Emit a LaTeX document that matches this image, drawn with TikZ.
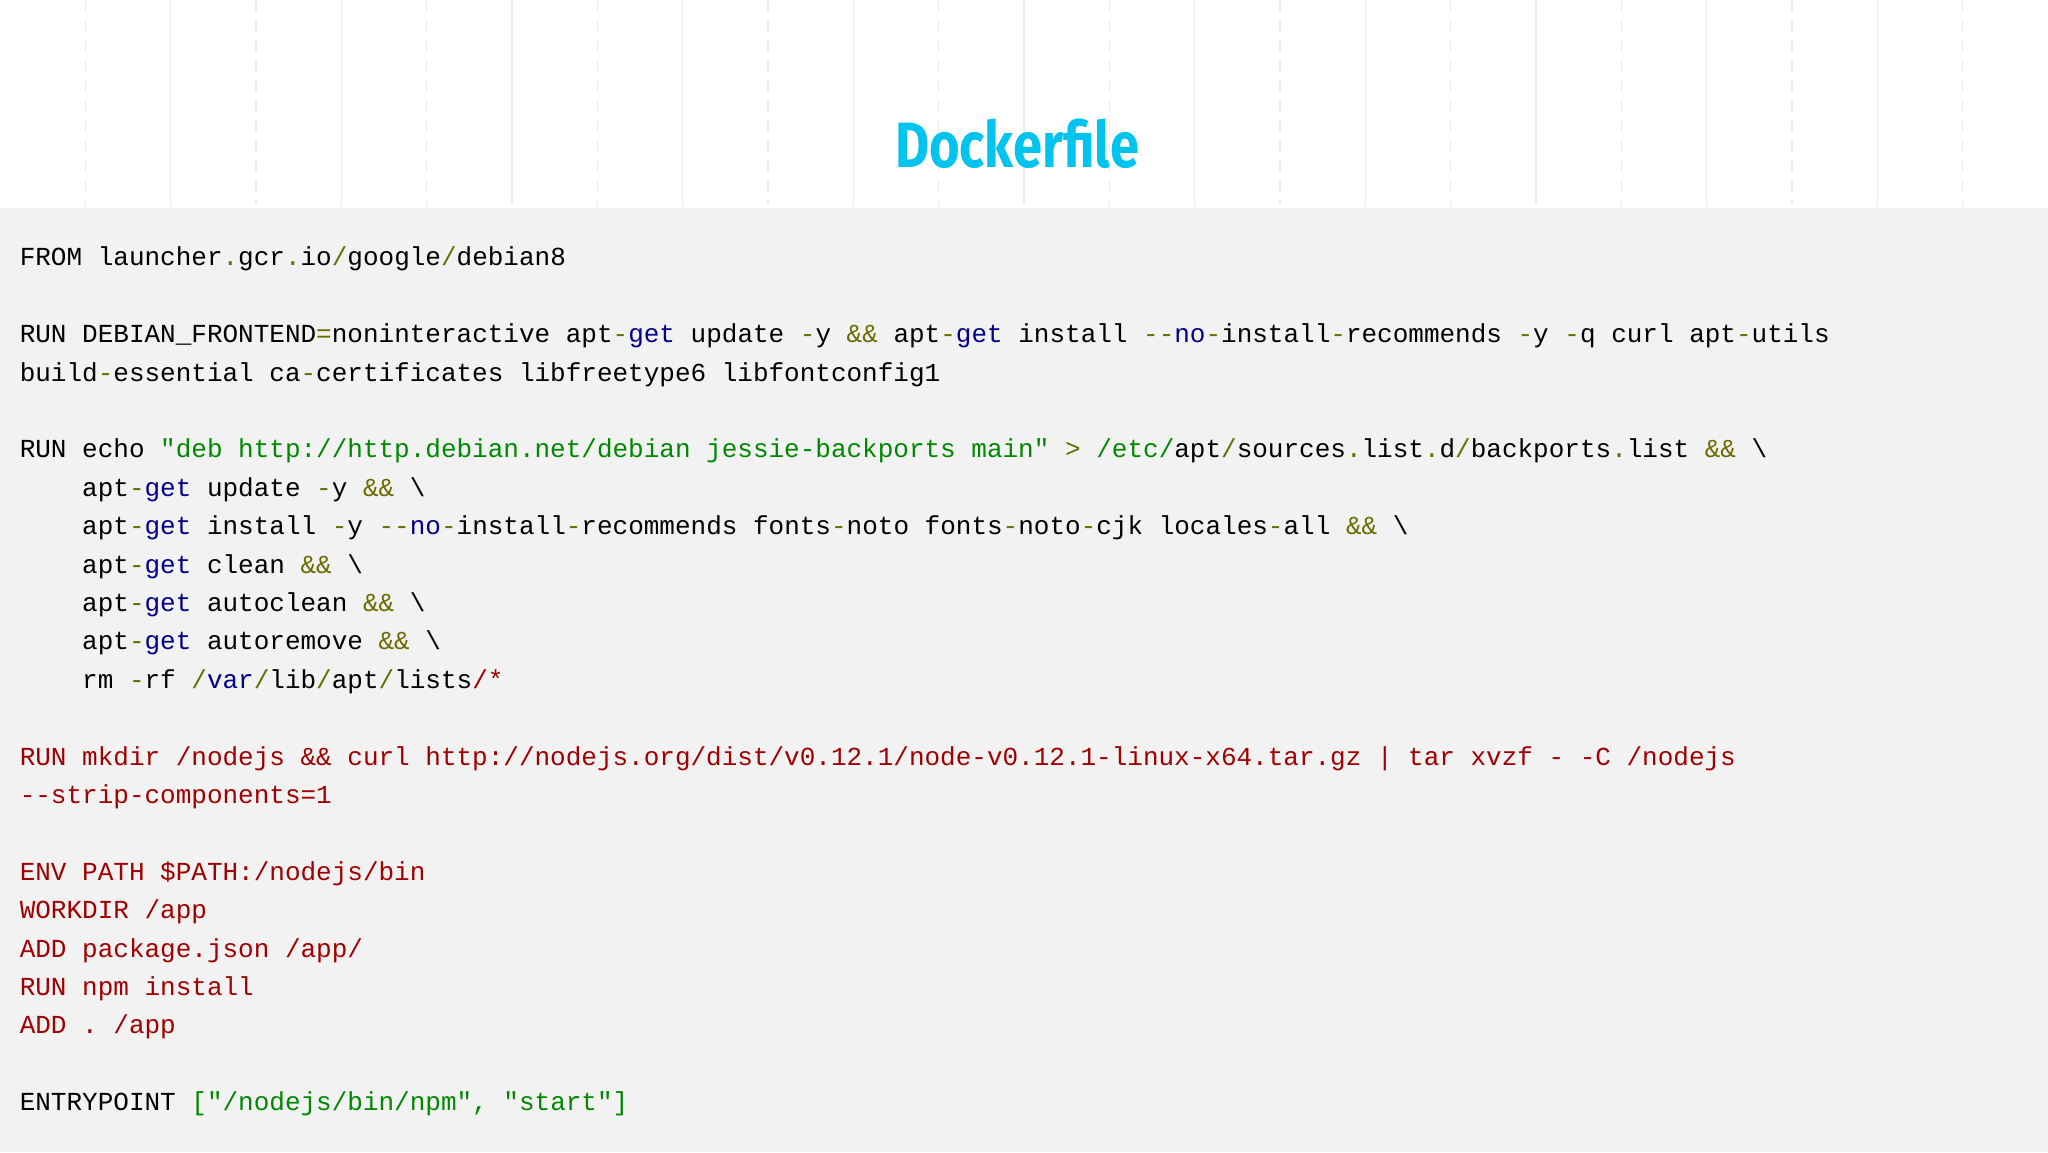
\documentclass[tikz,border=0pt]{standalone}
\usepackage{fontspec}
\newfontfamily\code{Liberation Mono}
\newfontfamily\titlefont{Fira Sans}
\definecolor{bgg}{HTML}{F2F2F3}
\definecolor{gridc}{HTML}{EBEBEE}
\definecolor{oliv}{HTML}{6B6B00}
\definecolor{navy}{HTML}{000088}
\definecolor{grn}{HTML}{008800}
\definecolor{dred}{HTML}{A00000}
\definecolor{cyant}{HTML}{00C3EE}
\newcommand\cO[1]{\textcolor{oliv}{#1}}
\newcommand\cB[1]{\textcolor{navy}{#1}}
\newcommand\cG[1]{\textcolor{grn}{#1}}
\newcommand\cR[1]{\textcolor{dred}{#1}}
\newcommand\ind{\hspace*{62.4pt}}
\tikzset{codeline/.style={anchor=base west,inner sep=0pt,font=\code\fontsize{26}{30}\selectfont,text=black}}
\begin{document}
\begin{tikzpicture}[x=1pt,y=-1pt]
\useasboundingbox (0,0) rectangle (2048,1152);
\fill[white] (0,0) rectangle (2048,208);
\fill[bgg] (0,208) rectangle (2048,1152);
\foreach \k in {1,3,...,23}{\draw[gridc,line width=1.5pt,dash pattern=on 12pt off 8pt] (\k*85.33,0) -- (\k*85.33,205);}
\foreach \k in {2,4,...,22}{\draw[gridc,line width=1.5pt] (\k*85.33,0) -- (\k*85.33,205);}
\node (title) at (1017,144) {\titlefont\bfseries\fontsize{64}{70}\selectfont\color{cyant}\scalebox{0.82}[1]{Dockerfile}};
\def\bl#1{265.8+38.4*#1}
\node[codeline] (l0) at (19.6,\bl{0}) {FROM launcher\cO{.}gcr\cO{.}io\cO{/}google\cO{/}debian8};
\node[codeline] (l2) at (19.6,\bl{2}) {RUN DEBIAN\_FRONTEND\cO{=}noninteractive apt\cO{-}\cB{get} update \cO{-}y \cO{\&\&} apt\cO{-}\cB{get} install \cO{--}\cB{no}\cO{-}install\cO{-}recommends \cO{-}y \cO{-}q curl apt\cO{-}utils};
\node[codeline] (l3) at (19.6,\bl{3}) {build\cO{-}essential ca\cO{-}certificates libfreetype6 libfontconfig1};
\node[codeline] (l5) at (19.6,\bl{5}) {RUN echo \cG{"deb http://http.debian.net/debian jessie-backports main"} \cO{>} \cG{/etc/}apt\cO{/}sources\cO{.}list\cO{.}d\cO{/}backports\cO{.}list \cO{\&\&} \textbackslash};
\node[codeline] (l6) at (19.6,\bl{6}) {\ind apt\cO{-}\cB{get} update \cO{-}y \cO{\&\&} \textbackslash};
\node[codeline] (l7) at (19.6,\bl{7}) {\ind apt\cO{-}\cB{get} install \cO{-}y \cO{--}\cB{no}\cO{-}install\cO{-}recommends fonts\cO{-}noto fonts\cO{-}noto\cO{-}cjk locales\cO{-}all \cO{\&\&} \textbackslash};
\node[codeline] (l8) at (19.6,\bl{8}) {\ind apt\cO{-}\cB{get} clean \cO{\&\&} \textbackslash};
\node[codeline] (l9) at (19.6,\bl{9}) {\ind apt\cO{-}\cB{get} autoclean \cO{\&\&} \textbackslash};
\node[codeline] (l10) at (19.6,\bl{10}) {\ind apt\cO{-}\cB{get} autoremove \cO{\&\&} \textbackslash};
\node[codeline] (l11) at (19.6,\bl{11}) {\ind rm \cO{-}rf \cO{/}\cB{var}\cO{/}lib\cO{/}apt\cO{/}lists\cR{/*}};
\node[codeline,text=dred] (l13) at (19.6,\bl{13}) {RUN mkdir /nodejs \&\& curl http://nodejs.org/dist/v0.12.1/node-v0.12.1-linux-x64.tar.gz | tar xvzf - -C /nodejs};
\node[codeline,text=dred] (l14) at (19.6,\bl{14}) {--strip-components=1};
\node[codeline,text=dred] (l16) at (19.6,\bl{16}) {ENV PATH \$PATH:/nodejs/bin};
\node[codeline,text=dred] (l17) at (19.6,\bl{17}) {WORKDIR /app};
\node[codeline,text=dred] (l18) at (19.6,\bl{18}) {ADD package.json /app/};
\node[codeline,text=dred] (l19) at (19.6,\bl{19}) {RUN npm install};
\node[codeline,text=dred] (l20) at (19.6,\bl{20}) {ADD . /app};
\node[codeline] (l22) at (19.6,\bl{22}) {ENTRYPOINT \cG{["/nodejs/bin/npm",} \cG{"start"]}};
\end{tikzpicture}
\end{document}
